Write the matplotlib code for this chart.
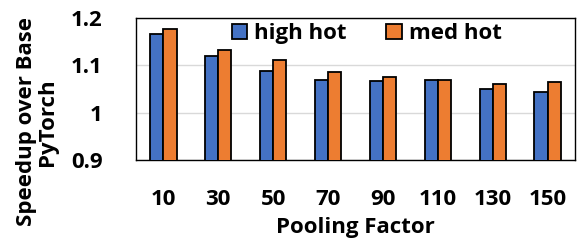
import numpy as np
import matplotlib
matplotlib.use("Agg")
import matplotlib.pyplot as plt

plt.rcParams['font.family'] = ['Open Sans', 'DejaVu Sans']
plt.rcParams['font.weight'] = 'bold'

pooling = ['10', '30', '50', '70', '90', '110', '130', '150']
high_hot = [1.167, 1.119, 1.089, 1.068, 1.066, 1.070, 1.049, 1.043]
med_hot = [1.176, 1.132, 1.111, 1.086, 1.075, 1.070, 1.061, 1.064]

fig = plt.figure(figsize=(5.81, 2.48), dpi=100)
ax = fig.add_axes([136 / 581, 1 - 160 / 248, 439 / 581, 142 / 248])

x = np.arange(len(pooling))
w = 0.24
ax.bar(x - w / 2, high_hot, w, color='#4472C4', edgecolor='black', linewidth=1.3,
       label='high hot', zorder=3)
ax.bar(x + w / 2, med_hot, w, color='#ED7D31', edgecolor='black', linewidth=1.3,
       label='med hot', zorder=3)

ax.set_ylim(0.9, 1.2)
ax.set_xlim(-0.5, len(pooling) - 0.5)
ax.set_yticks([0.9, 1.0, 1.1, 1.2])
ax.set_yticklabels(['0.9', '1', '1.1', '1.2'])
ax.set_xticks(x)
ax.set_xticklabels(pooling)
ax.tick_params(axis='both', length=0, labelsize=16)
ax.tick_params(axis='x', pad=21)
ax.tick_params(axis='y', pad=24)
ax.yaxis.grid(True, color='#d9d9d9', linewidth=1, zorder=0)
for s in ax.spines.values():
    s.set_color('black')
    s.set_linewidth(1)

ax.set_xlabel('Pooling Factor', fontsize=16, fontweight='bold', labelpad=5)
fig.text(37 / 581, 1 - 122 / 248, 'Speedup over Base\nPyTorch', fontsize=16,
         fontweight='bold', rotation=90, ha='center', va='center',
         ma='center', linespacing=1.05)

ax.legend(loc='upper right', ncol=2, frameon=False, fontsize=16,
          handlelength=0.7, handleheight=0.7, handletextpad=0.3,
          columnspacing=1.8, borderaxespad=0.1, bbox_to_anchor=(0.858, 1.04))

fig.savefig('out.png', dpi=100)
